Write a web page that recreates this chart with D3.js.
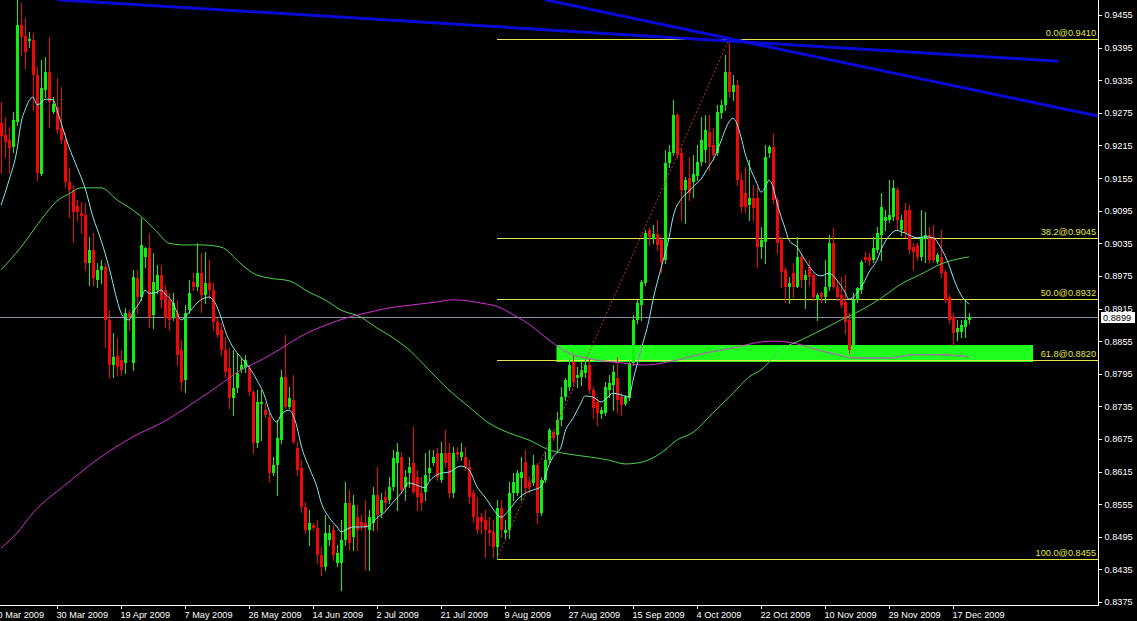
<!DOCTYPE html>
<html><head><meta charset="utf-8">
<script src="https://cdn.jsdelivr.net/npm/d3@7"></script>
<style>
html,body{margin:0;padding:0;background:#000;overflow:hidden}
svg{display:block}
text{font-family:"Liberation Sans",Arial,sans-serif}
</style></head><body>
<svg id="c" width="1137" height="621"></svg>
<script>
// ---------- DATA ----------
const opens=[0.9256,0.9234,0.9225,0.9212,0.9258,0.9437,0.9416,0.9407,0.9409,0.9345,0.9162,0.9317,0.9350,0.9277,0.9286,0.9247,0.9225,0.9148,0.9133,0.9104,0.9091,0.9087,0.8999,0.9023,0.8967,0.8986,0.8991,0.8894,0.8811,0.8828,0.8820,0.8815,0.8907,0.8815,0.8971,0.8936,0.9010,0.9026,0.8903,0.8949,0.8977,0.8949,0.8931,0.8897,0.8907,0.8839,0.8783,0.8912,0.8964,0.8955,0.8980,0.8940,0.8962,0.8949,0.8890,0.8875,0.8839,0.8805,0.8750,0.8769,0.8802,0.8805,0.8805,0.8761,0.8667,0.8739,0.8728,0.8715,0.8612,0.8627,0.8673,0.8789,0.8734,0.8747,0.8658,0.8621,0.8550,0.8507,0.8517,0.8511,0.8461,0.8439,0.8489,0.8507,0.8447,0.8447,0.8489,0.8557,0.8495,0.8531,0.8522,0.8520,0.8507,0.8520,0.8572,0.8539,0.8568,0.8563,0.8587,0.8631,0.8642,0.8587,0.8612,0.8631,0.8605,0.8575,0.8577,0.8612,0.8631,0.8649,0.8599,0.8649,0.8649,0.8575,0.8651,0.8642,0.8642,0.8623,0.8575,0.8531,0.8531,0.8526,0.8507,0.8504,0.8476,0.8548,0.8502,0.8507,0.8575,0.8575,0.8603,0.8633,0.8596,0.8594,0.8627,0.8539,0.8599,0.8636,0.8688,0.8682,0.8710,0.8752,0.8771,0.8817,0.8787,0.8789,0.8796,0.8811,0.8765,0.8743,0.8721,0.8723,0.8765,0.8774,0.8787,0.8752,0.8739,0.8750,0.8815,0.8894,0.8921,0.8962,0.9059,0.9043,0.9052,0.9041,0.9004,0.9183,0.9201,0.9271,0.9201,0.9133,0.9155,0.9148,0.9159,0.9185,0.9207,0.9240,0.9216,0.9201,0.9275,0.9289,0.9350,0.9313,0.9326,0.9151,0.9127,0.9105,0.9118,0.9118,0.9028,0.9037,0.9201,0.9212,0.9115,0.9041,0.8986,0.8955,0.8980,0.8955,0.9010,0.8967,0.8991,0.8977,0.8931,0.8943,0.8936,0.8955,0.9035,0.8955,0.8940,0.8927,0.8894,0.8844,0.8931,0.8949,0.9010,0.9010,0.9004,0.9023,0.9050,0.9076,0.9078,0.9083,0.9133,0.9059,0.9096,0.9096,0.9028,0.9032,0.9010,0.9043,0.9050,0.9047,0.9001,0.9010,0.8982,0.8936,0.8899,0.8872,0.8872,0.8881,0.8894];
const highs=[0.9295,0.9267,0.9249,0.9277,0.9483,0.9477,0.9449,0.9424,0.9422,0.9359,0.9372,0.9378,0.9415,0.9304,0.9339,0.9323,0.9238,0.9173,0.9142,0.9115,0.9111,0.9109,0.9047,0.9054,0.8999,0.9004,0.8999,0.8912,0.8870,0.8861,0.8839,0.8916,0.8912,0.8986,0.8986,0.9081,0.9028,0.9054,0.9017,0.8995,0.8995,0.8958,0.8943,0.8943,0.8931,0.8857,0.8921,0.8967,0.8980,0.9035,0.9017,0.9019,0.9004,0.8962,0.8897,0.8888,0.8863,0.8842,0.8839,0.8833,0.8824,0.8829,0.8811,0.8765,0.8765,0.8765,0.8741,0.8723,0.8642,0.8710,0.8802,0.8866,0.8771,0.8793,0.8669,0.8636,0.8559,0.8544,0.8520,0.8526,0.8476,0.8535,0.8517,0.8517,0.8480,0.8526,0.8596,0.8581,0.8572,0.8553,0.8535,0.8563,0.8544,0.8587,0.8623,0.8575,0.8581,0.8605,0.8655,0.8667,0.8651,0.8618,0.8642,0.8697,0.8618,0.8605,0.8649,0.8655,0.8655,0.8658,0.8669,0.8691,0.8667,0.8660,0.8660,0.8667,0.8660,0.8636,0.8581,0.8568,0.8539,0.8544,0.8531,0.8526,0.8563,0.8563,0.8526,0.8596,0.8612,0.8618,0.8642,0.8655,0.8605,0.8645,0.8631,0.8605,0.8651,0.8695,0.8691,0.8725,0.8771,0.8787,0.8824,0.8829,0.8807,0.8817,0.8820,0.8824,0.8771,0.8752,0.8734,0.8780,0.8793,0.8811,0.8826,0.8759,0.8756,0.8820,0.8903,0.8931,0.8967,0.9059,0.9063,0.9069,0.9078,0.9047,0.9207,0.9216,0.9299,0.9275,0.9210,0.9157,0.9194,0.9197,0.9216,0.9267,0.9271,0.9271,0.9247,0.9289,0.9299,0.9381,0.9410,0.9345,0.9335,0.9164,0.9175,0.9188,0.9142,0.9139,0.9065,0.9216,0.9216,0.9238,0.9120,0.9047,0.8991,0.8973,0.8999,0.9047,0.9017,0.8986,0.9004,0.8980,0.8943,0.8945,0.9004,0.9050,0.9063,0.8967,0.8973,0.8977,0.8907,0.8943,0.8955,0.9004,0.9019,0.9017,0.9047,0.9065,0.9127,0.9096,0.9151,0.9151,0.9139,0.9087,0.9109,0.9105,0.9035,0.9035,0.9096,0.9093,0.9065,0.9069,0.9017,0.9059,0.8986,0.8940,0.8907,0.8894,0.8894,0.8931,0.8907];
const lows=[0.9164,0.9194,0.9164,0.9203,0.9253,0.9381,0.9357,0.9396,0.9280,0.9151,0.9161,0.9304,0.9249,0.9275,0.9238,0.9219,0.9139,0.9083,0.9037,0.9078,0.9054,0.8986,0.8958,0.8958,0.8955,0.8962,0.8844,0.8787,0.8789,0.8793,0.8793,0.8796,0.8875,0.8802,0.8907,0.8931,0.8991,0.8881,0.8879,0.8943,0.8918,0.8881,0.8875,0.8894,0.8811,0.8765,0.8761,0.8907,0.8949,0.8949,0.8909,0.8925,0.8934,0.8875,0.8863,0.8829,0.8789,0.8732,0.8719,0.8761,0.8798,0.8798,0.8756,0.8649,0.8660,0.8673,0.8715,0.8596,0.8609,0.8572,0.8667,0.8732,0.8732,0.8667,0.8609,0.8541,0.8502,0.8480,0.8507,0.8447,0.8425,0.8434,0.8480,0.8452,0.8441,0.8397,0.8480,0.8471,0.8471,0.8471,0.8507,0.8434,0.8434,0.8507,0.8507,0.8531,0.8544,0.8557,0.8581,0.8544,0.8575,0.8563,0.8587,0.8575,0.8544,0.8544,0.8563,0.8599,0.8627,0.8599,0.8596,0.8623,0.8568,0.8568,0.8636,0.8636,0.8618,0.8557,0.8522,0.8502,0.8502,0.8458,0.8480,0.8458,0.8455,0.8495,0.8493,0.8493,0.8563,0.8572,0.8563,0.8575,0.8577,0.8590,0.8520,0.8535,0.8596,0.8633,0.8673,0.8655,0.8701,0.8747,0.8765,0.8774,0.8771,0.8774,0.8789,0.8759,0.8713,0.8701,0.8713,0.8719,0.8752,0.8728,0.8725,0.8719,0.8737,0.8747,0.8811,0.8888,0.8894,0.8958,0.9032,0.9035,0.9023,0.8982,0.8999,0.9175,0.9197,0.9192,0.9078,0.9072,0.9115,0.9120,0.9151,0.9179,0.9185,0.9170,0.9188,0.9197,0.9265,0.9280,0.9304,0.9299,0.9142,0.9093,0.9093,0.9078,0.9078,0.8991,0.9008,0.8999,0.9194,0.9109,0.9017,0.8955,0.8927,0.8925,0.8936,0.8955,0.8955,0.8916,0.8958,0.8931,0.8894,0.8927,0.8927,0.8949,0.8953,0.8931,0.8918,0.8870,0.8833,0.8839,0.8927,0.8943,0.9001,0.8995,0.9001,0.9019,0.9004,0.9059,0.9074,0.9078,0.9059,0.9050,0.9047,0.9017,0.8986,0.9004,0.9004,0.9001,0.9001,0.9001,0.8999,0.8973,0.8927,0.8888,0.8848,0.8857,0.8863,0.8863,0.8888];
const closes=[0.9232,0.9221,0.9210,0.9262,0.9437,0.9415,0.9387,0.9411,0.9345,0.9164,0.9321,0.9350,0.9295,0.9291,0.9243,0.9225,0.9148,0.9133,0.9093,0.9093,0.9085,0.8999,0.9023,0.8971,0.8986,0.8993,0.8894,0.8811,0.8826,0.8807,0.8802,0.8907,0.8897,0.8973,0.8936,0.9032,0.9026,0.8899,0.8964,0.8977,0.8931,0.8897,0.8894,0.8925,0.8829,0.8780,0.8907,0.8943,0.8955,0.8980,0.8940,0.8962,0.8949,0.8890,0.8866,0.8839,0.8798,0.8750,0.8769,0.8796,0.8811,0.8820,0.8761,0.8667,0.8743,0.8743,0.8719,0.8612,0.8627,0.8677,0.8789,0.8734,0.8750,0.8669,0.8618,0.8550,0.8507,0.8520,0.8511,0.8461,0.8439,0.8502,0.8502,0.8461,0.8465,0.8489,0.8557,0.8483,0.8553,0.8507,0.8515,0.8511,0.8531,0.8572,0.8535,0.8563,0.8557,0.8587,0.8640,0.8651,0.8581,0.8605,0.8623,0.8577,0.8568,0.8557,0.8609,0.8621,0.8642,0.8605,0.8649,0.8631,0.8575,0.8649,0.8645,0.8651,0.8623,0.8568,0.8531,0.8507,0.8522,0.8507,0.8502,0.8476,0.8548,0.8507,0.8507,0.8575,0.8596,0.8612,0.8614,0.8585,0.8587,0.8627,0.8539,0.8599,0.8636,0.8691,0.8677,0.8710,0.8752,0.8783,0.8811,0.8780,0.8793,0.8802,0.8811,0.8765,0.8732,0.8723,0.8728,0.8771,0.8778,0.8798,0.8747,0.8737,0.8752,0.8815,0.8894,0.8925,0.8964,0.9054,0.9047,0.9052,0.9032,0.9001,0.9183,0.9203,0.9271,0.9197,0.9133,0.9151,0.9127,0.9162,0.9185,0.9225,0.9243,0.9212,0.9197,0.9277,0.9289,0.9350,0.9313,0.9326,0.9151,0.9102,0.9102,0.9118,0.9100,0.9028,0.9041,0.9194,0.9212,0.9115,0.9035,0.8982,0.8955,0.8962,0.8955,0.9010,0.8967,0.8977,0.8973,0.8936,0.8940,0.8936,0.8955,0.9035,0.8955,0.8936,0.8921,0.8890,0.8839,0.8931,0.8953,0.9001,0.9004,0.9002,0.9026,0.9054,0.9102,0.9083,0.9087,0.9137,0.9078,0.9078,0.9054,0.9023,0.9019,0.9010,0.9047,0.9050,0.9004,0.9004,0.9013,0.8980,0.8931,0.8894,0.8870,0.8879,0.8885,0.8894,0.8899];

// moving averages: [bar index, value]
const fastMA=[[0,0.9105],[2,0.9151],[4,0.9207],[5,0.9256],[6,0.9280],[8,0.9304],[9,0.9290],[10,0.9293],[11,0.9300],[13,0.9299],[14,0.9280],[15,0.9257],[17,0.9212],[19,0.9175],[21,0.9137],[23,0.9083],[25,0.9041],[27,0.8991],[29,0.8931],[30,0.8907],[31,0.8897],[32,0.8894],[33,0.8908],[35,0.8931],[36,0.8949],[37,0.8943],[39,0.8945],[40,0.8949],[41,0.8942],[43,0.8925],[44,0.8908],[45,0.8894],[47,0.8908],[49,0.8925],[50,0.8931],[52,0.8936],[53,0.8931],[55,0.8899],[56,0.8875],[58,0.8844],[60,0.8825],[62,0.8807],[64,0.8783],[66,0.8752],[67,0.8728],[69,0.8706],[70,0.8719],[72,0.8728],[74,0.8697],[75,0.8664],[77,0.8623],[79,0.8586],[80,0.8559],[82,0.8531],[84,0.8513],[85,0.8504],[86,0.8507],[88,0.8513],[90,0.8513],[92,0.8515],[93,0.8522],[94,0.8530],[96,0.8541],[97,0.8550],[100,0.8575],[102,0.8594],[105,0.8587],[106,0.8585],[107,0.8596],[110,0.8612],[112,0.8614],[115,0.8625],[117,0.8618],[119,0.8587],[121,0.8568],[124,0.8537],[125,0.8531],[127,0.8544],[129,0.8563],[131,0.8575],[133,0.8581],[135,0.8587],[137,0.8627],[138,0.8642],[140,0.8660],[141,0.8688],[143,0.8713],[145,0.8741],[146,0.8754],[148,0.8752],[150,0.8743],[151,0.8747],[153,0.8759],[155,0.8756],[157,0.8752],[158,0.8783],[160,0.8839],[162,0.8894],[163,0.8931],[165,0.8989],[167,0.9045],[168,0.9083],[170,0.9116],[172,0.9131],[173,0.9139],[175,0.9153],[177,0.9177],[178,0.9188],[180,0.9223],[181,0.9243],[183,0.9265],[185,0.9231],[186,0.9201],[187,0.9179],[189,0.9145],[190,0.9129],[191,0.9137],[192,0.9151],[193,0.9139],[194,0.9109],[196,0.9063],[197,0.9041],[199,0.9028],[201,0.9004],[202,0.8993],[204,0.8977],[205,0.8975],[207,0.8980],[209,0.8967],[211,0.8945],[212,0.8932],[214,0.8943],[216,0.8967],[217,0.8982],[219,0.9004],[220,0.9023],[222,0.9048],[224,0.9059],[225,0.9056],[226,0.9054],[228,0.9047],[229,0.9045],[231,0.9047],[233,0.9045],[235,0.9026],[237,0.8995],[238,0.8973],[240,0.8940],[242,0.8923]];
const midMA=[[0,0.8986],[5,0.9028],[10,0.9078],[14,0.9113],[17,0.9126],[20,0.9137],[25,0.9137],[29,0.9115],[33,0.9096],[36,0.9078],[39,0.9056],[42,0.9035],[46,0.9032],[50,0.9032],[55,0.9028],[60,0.8997],[63,0.8980],[67,0.8971],[72,0.8966],[77,0.8945],[81,0.8931],[85,0.8912],[90,0.8899],[94,0.8879],[97,0.8866],[102,0.8839],[107,0.8802],[112,0.8765],[117,0.8734],[122,0.8704],[127,0.8686],[132,0.8673],[137,0.8655],[142,0.8647],[147,0.8642],[152,0.8636],[156,0.8629],[160,0.8632],[165,0.8649],[169,0.8673],[173,0.8687],[178,0.8723],[183,0.8759],[187,0.8789],[190,0.8802],[195,0.8839],[200,0.8857],[205,0.8875],[210,0.8894],[216,0.8916],[220,0.8934],[225,0.8960],[230,0.8978],[235,0.8997],[242,0.9010]];
const slowMA=[[0,0.8474],[4,0.8502],[8,0.8539],[16,0.8590],[25,0.8642],[33,0.8679],[41,0.8708],[48,0.8741],[54,0.8771],[60,0.8802],[65,0.8820],[71,0.8846],[75,0.8864],[80,0.8881],[86,0.8897],[92,0.8908],[97,0.8916],[101,0.8920],[109,0.8927],[113,0.8931],[120,0.8925],[125,0.8916],[127,0.8908],[132,0.8886],[137,0.8857],[142,0.8833],[149,0.8820],[155,0.8815],[161,0.8811],[167,0.8817],[176,0.8833],[184,0.8844],[188,0.8851],[193,0.8855],[199,0.8850],[204,0.8839],[209,0.8830],[213,0.8824],[217,0.8824],[222,0.8824],[228,0.8830],[234,0.8830],[242,0.8826]];

const priceTicks=[0.9455,0.9395,0.9335,0.9275,0.9215,0.9155,0.9095,0.9035,0.8975,0.8915,0.8855,0.8795,0.8735,0.8675,0.8615,0.8555,0.8495,0.8435,0.8375];
const dateTickIdx=[-2,14,30,46,62,78,94,110,126,142,158,174,190,206,222,238];
const dateLabels=["10 Mar 2009","30 Mar 2009","19 Apr 2009","7 May 2009","26 May 2009","14 Jun 2009","2 Jul 2009","21 Jul 2009","9 Aug 2009","27 Aug 2009","15 Sep 2009","4 Oct 2009","22 Oct 2009","10 Nov 2009","29 Nov 2009","17 Dec 2009"];

const fibLevels=[0,38.2,50,61.8,100];
const fibPrices=[0.9410,0.9045,0.8932,0.8820,0.8455];
const fibStartIdx=124, fibHighIdx=182;
const lastPrice=0.8899;
const zone={start:139,end:258,top:0.8848,bottom:0.8816};
const trendLines=[[[14,0.9483],[264.25,0.9370]],[[136,0.9483],[274.25,0.9269]]];

// ---------- LAYOUT ----------
const plotR=1098, plotB=605;
const svg=d3.select('#c');
svg.append('rect').attr('width',1137).attr('height',621).attr('fill','#000');
const x=d3.scaleLinear().domain([0,274.25]).range([1,plotR]);
const y=d3.scaleLinear().domain([0.8375,0.9455]).range([602,15]);

const defs=svg.append('defs');
defs.append('clipPath').attr('id','plot').append('rect').attr('x',0).attr('y',0).attr('width',plotR).attr('height',plotB);
const zx0=Math.round(x(zone.start))-0.5, zx1=Math.min(plotR,Math.round(x(zone.end)));
const zy0=Math.round(y(zone.top)), zy1=Math.round(y(zone.bottom));
defs.append('clipPath').attr('id','zoneclip').append('rect').attr('x',zx0).attr('y',zy0).attr('width',zx1-zx0).attr('height',zy1-zy0);

const g=svg.append('g').attr('clip-path','url(#plot)');

// zone box
g.append('rect').attr('x',zx0).attr('y',zy0).attr('width',zx1-zx0).attr('height',zy1-zy0).attr('fill','#1eff1e');

// fib lines
const fibColor='#e4e448';
fibPrices.forEach((p,k)=>{
  const yy=Math.round(y(p))+0.5;
  g.append('line').attr('x1',Math.round(x(fibStartIdx))).attr('x2',plotR).attr('y1',yy).attr('y2',yy)
   .attr('stroke',fibColor).attr('stroke-width',1).attr('shape-rendering','crispEdges');
});

// last price line
const ly=Math.round(y(lastPrice))+0.5;
g.append('line').attr('x1',0).attr('x2',plotR).attr('y1',ly).attr('y2',ly).attr('stroke','#8a90a8').attr('stroke-width',1).attr('shape-rendering','crispEdges');

// candles
const bars=d3.range(opens.length).map(i=>({i,o:opens[i],h:highs[i],l:lows[i],c:closes[i]}));
const up='#10f010', dn='#f00808';
const cg=g.append('g').attr('shape-rendering','crispEdges');
cg.selectAll('line').data(bars).join('line')
  .attr('x1',d=>Math.round(x(d.i))+0.5).attr('x2',d=>Math.round(x(d.i))+0.5)
  .attr('y1',d=>Math.round(y(d.h))).attr('y2',d=>Math.round(y(d.l))+1)
  .attr('stroke',d=>d.c>=d.o?up:dn).attr('stroke-width',1);
cg.selectAll('rect').data(bars).join('rect')
  .attr('x',d=>Math.round(x(d.i))-1).attr('width',3)
  .attr('y',d=>Math.round(y(Math.max(d.o,d.c))))
  .attr('height',d=>Math.max(1,Math.round(y(Math.min(d.o,d.c)))-Math.round(y(Math.max(d.o,d.c)))))
  .attr('fill',d=>d.c>=d.o?up:dn);

// moving averages
const line=d3.line().x(d=>x(d[0])).y(d=>y(d[1])).curve(d3.curveMonotoneX);
const maDefs=[[slowMA,'#d22ed2'],[midMA,'#4ad04a'],[fastMA,'#86e6f2']];
maDefs.forEach(([data,col])=>{
  g.append('path').attr('d',line(data)).attr('fill','none').attr('stroke',col).attr('stroke-width',1);
});
// inside the zone box the lines show grey
const zg=g.append('g').attr('clip-path','url(#zoneclip)');
[slowMA,fastMA].forEach(data=>{
  zg.append('path').attr('d',line(data)).attr('fill','none').attr('stroke','#888').attr('stroke-width',1.2);
});

// fib connector (dotted)
g.append('line').attr('x1',x(fibStartIdx)).attr('y1',y(fibPrices[4])).attr('x2',x(fibHighIdx)).attr('y2',y(fibPrices[0]))
 .attr('stroke','#b83a22').attr('stroke-width',1).attr('stroke-dasharray','2,2');

// blue trend lines
trendLines.forEach(t=>{
  g.append('line').attr('x1',x(t[0][0])).attr('y1',y(t[0][1])).attr('x2',x(t[1][0])).attr('y2',y(t[1][1]))
   .attr('stroke','#0a0ad6').attr('stroke-width',3);
});

// fib labels
fibPrices.forEach((p,k)=>{
  svg.append('text').attr('x',1096).attr('y',Math.round(y(p))-3).attr('text-anchor','end')
   .attr('fill',fibColor).attr('font-size','9.2px').text(fibLevels[k].toFixed(1)+'@'+p.toFixed(4));
});

// axes frame
svg.append('line').attr('x1',plotR+0.5).attr('x2',plotR+0.5).attr('y1',0).attr('y2',plotB+1).attr('stroke','#fff').attr('shape-rendering','crispEdges');
svg.append('line').attr('x1',0).attr('x2',plotR+1).attr('y1',plotB+0.5).attr('y2',plotB+0.5).attr('stroke','#fff').attr('shape-rendering','crispEdges');

const ra=svg.append('g').attr('transform',`translate(${plotR+0.5},0)`)
  .call(d3.axisRight(y).tickValues(priceTicks).tickSize(3).tickPadding(3).tickFormat(d3.format('.4f')));
ra.select('.domain').remove();
ra.selectAll('line').attr('stroke','#fff').attr('shape-rendering','crispEdges');
ra.selectAll('text').attr('fill','#fff').attr('font-size','9.2px').attr('font-family','"Liberation Sans",Arial,sans-serif');

const ba=svg.append('g').attr('transform',`translate(0,${plotB+0.5})`)
  .call(d3.axisBottom(x).tickValues(dateTickIdx).tickSize(3).tickPadding(3).tickFormat((d,k)=>dateLabels[k]));
ba.select('.domain').remove();
ba.selectAll('line').attr('stroke','#fff').attr('shape-rendering','crispEdges');
ba.selectAll('text').attr('fill','#fff').attr('font-size','9.2px').attr('text-anchor','start').attr('x',-1)
  .attr('font-family','"Liberation Sans",Arial,sans-serif');

// last price tag
const ty=y(lastPrice);
svg.append('rect').attr('x',1101).attr('y',Math.round(ty)-5).attr('width',34).attr('height',11).attr('fill','#fff');
svg.append('text').attr('x',1103).attr('y',Math.round(ty)+4).attr('fill','#000').attr('font-size','9.2px').text(lastPrice.toFixed(4));
</script>
</body></html>
